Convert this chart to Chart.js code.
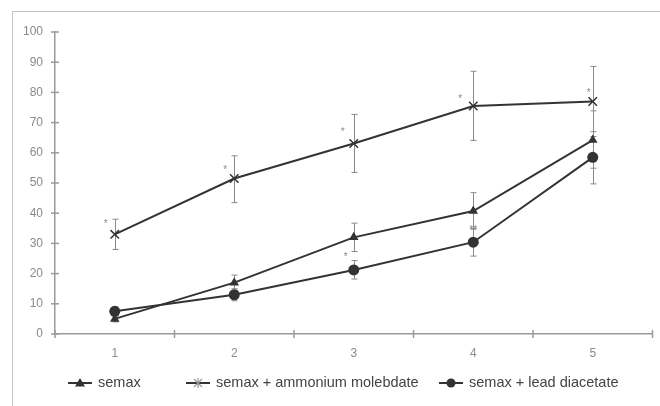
<!DOCTYPE html>
<html>
<head>
<meta charset="utf-8">
<script src="https://cdn.jsdelivr.net/npm/chart.js@4.4.0/dist/chart.umd.min.js"></script>
<style>
  html, body { margin: 0; padding: 0; background: #fff; }
  #wrap { position: relative; width: 660px; height: 406px; overflow: hidden; }
  #frame { position: absolute; left: 12px; top: 11px; width: 700px; height: 450px; border: 1.5px solid #c4c4c4; box-sizing: border-box; }
  canvas { position: absolute; left: 0; top: 0; }
</style>
</head>
<body>
<div id="wrap">
  <div id="frame"></div>
  <canvas id="c" width="660" height="406"></canvas>
</div>
<script>
const categories = ['1', '2', '3', '4', '5'];
const seriesNames = ['semax', 'semax + ammonium molebdate', 'semax + lead diacetate'];

const semax = [5, 17, 32, 40.7, 64.2];
const semaxUpper = [6, 19.5, 36.7, 46.8, 73.9];
const semaxLower = [4, 14.5, 27.3, 34.7, 54.9];

const ammonium = [33, 51.5, 63.1, 75.5, 77];
const ammoniumUpper = [38, 59, 72.7, 87, 88.6];
const ammoniumLower = [28, 43.5, 53.5, 64.1, 65.4];

const lead = [7.5, 13, 21.2, 30.4, 58.5];
const leadUpper = [9, 15, 24.3, 35, 67];
const leadLower = [6, 11, 18.2, 25.8, 49.7];

// significance marks
const starCategory = [0, 1, 2, 3, 4, 2, 3];
const starValue = [37, 55, 67.5, 78.5, 80.5, 26, 35];
const starText = ['*', '*', '*', '*', '*', '*', '**'];
const starShift = [-9, -9, -11, -13, -4, -8, 0];

const yTicks = [0, 10, 20, 30, 40, 50, 60, 70, 80, 90, 100];

const lineColor = '#333333';
const errColor = '#8a8a8a';
const axisColor = '#9a9a9a';

const errors = [
  { up: semaxUpper, lo: semaxLower },
  { up: ammoniumUpper, lo: ammoniumLower },
  { up: leadUpper, lo: leadLower }
];

const errorBarPlugin = {
  id: 'errorBars',
  beforeDatasetsDraw(chart) {
    const ctx = chart.ctx;
    const xs = chart.scales.x, ys = chart.scales.y;
    ctx.save();
    ctx.strokeStyle = errColor;
    ctx.lineWidth = 1;
    errors.forEach(e => {
      categories.forEach((c, i) => {
        const x = Math.round(xs.getPixelForValue(i)) + 0.5;
        const y1 = ys.getPixelForValue(e.up[i]);
        const y2 = ys.getPixelForValue(e.lo[i]);
        ctx.beginPath();
        ctx.moveTo(x, y1); ctx.lineTo(x, y2);
        ctx.moveTo(x - 3, y1); ctx.lineTo(x + 3, y1);
        ctx.moveTo(x - 3, y2); ctx.lineTo(x + 3, y2);
        ctx.stroke();
      });
    });
    ctx.fillStyle = '#8a8a8a';
    ctx.font = '10px "Liberation Sans", Arial, sans-serif';
    ctx.textAlign = 'center';
    ctx.textBaseline = 'middle';
    starCategory.forEach((ci, k) => {
      const x = xs.getPixelForValue(ci) + starShift[k];
      const y = ys.getPixelForValue(starValue[k]);
      ctx.fillText(starText[k], x, y + 2);
    });
    ctx.restore();
  },
  afterDraw(chart) {
    const ctx = chart.ctx;
    const xs = chart.scales.x, ys = chart.scales.y;
    const area = chart.chartArea;
    ctx.save();
    ctx.strokeStyle = axisColor;
    ctx.lineWidth = 1.5;
    yTicks.forEach(v => {
      const y = ys.getPixelForValue(v);
      ctx.beginPath();
      ctx.moveTo(area.left - 4, y); ctx.lineTo(area.left + 4, y);
      ctx.stroke();
    });
    for (let i = 0; i <= categories.length; i++) {
      const x = xs.getPixelForValue(i - 0.5);
      ctx.beginPath();
      ctx.moveTo(x, area.bottom - 4); ctx.lineTo(x, area.bottom + 4);
      ctx.stroke();
    }
    // legend
    const legendX = [68, 186, 439];
    const legendY = 383;
    chart.data.datasets.forEach((ds, i) => {
      const x0 = legendX[i];
      ctx.strokeStyle = lineColor;
      ctx.lineWidth = 2;
      ctx.beginPath();
      ctx.moveTo(x0, legendY); ctx.lineTo(x0 + 24, legendY);
      ctx.stroke();
      const cx = x0 + 12;
      ctx.fillStyle = lineColor;
      if (ds.pointStyle === 'triangle') {
        ctx.beginPath();
        ctx.moveTo(cx, legendY - 5); ctx.lineTo(cx + 5, legendY + 3.5); ctx.lineTo(cx - 5, legendY + 3.5);
        ctx.closePath(); ctx.fill();
      } else if (ds.pointStyle === 'circle') {
        ctx.beginPath(); ctx.arc(cx, legendY, 4.5, 0, Math.PI * 2); ctx.fill();
      } else {
        ctx.strokeStyle = '#999';
        ctx.lineWidth = 1.2;
        ctx.beginPath();
        ctx.moveTo(cx - 4, legendY - 4); ctx.lineTo(cx + 4, legendY + 4);
        ctx.moveTo(cx + 4, legendY - 4); ctx.lineTo(cx - 4, legendY + 4);
        ctx.moveTo(cx, legendY - 5); ctx.lineTo(cx, legendY + 5);
        ctx.stroke();
      }
      ctx.fillStyle = '#444';
      ctx.font = '14.5px "Liberation Sans", Arial, sans-serif';
      ctx.textAlign = 'left';
      ctx.textBaseline = 'middle';
      ctx.fillText(ds.label, x0 + 30, legendY);
    });
    ctx.restore();
  }
};

new Chart(document.getElementById('c'), {
  type: 'line',
  data: {
    labels: categories,
    datasets: [
      { label: seriesNames[0], data: semax, borderColor: lineColor, backgroundColor: lineColor, borderWidth: 2,
        pointStyle: 'triangle', pointRadius: 5.5, pointBorderWidth: 0, tension: 0 },
      { label: seriesNames[1], data: ammonium, borderColor: lineColor, backgroundColor: lineColor, borderWidth: 2,
        pointStyle: 'crossRot', pointRadius: 6, pointBorderWidth: 1.5, tension: 0 },
      { label: seriesNames[2], data: lead, borderColor: lineColor, backgroundColor: lineColor, borderWidth: 2,
        pointStyle: 'circle', pointRadius: 5.5, pointBorderWidth: 0, tension: 0 }
    ]
  },
  options: {
    responsive: false,
    animation: false,
    layout: { padding: { left: 0, top: 32, right: 7, bottom: 0 } },
    plugins: { legend: { display: false }, tooltip: { enabled: false } },
    scales: {
      x: {
        type: 'category',
        offset: true,
        grid: { display: false },
        border: { display: true, color: axisColor, width: 1.5 },
        ticks: { color: '#8a8a8a', font: { size: 12, family: '"Liberation Sans", Arial, sans-serif' }, padding: 4 },
        afterFit(s) { s.height = 72; }
      },
      y: {
        min: 0, max: 100,
        grid: { display: false },
        border: { display: true, color: axisColor, width: 1.5 },
        ticks: { stepSize: 10, color: '#8a8a8a', font: { size: 12, family: '"Liberation Sans", Arial, sans-serif' }, padding: 4 },
        afterFit(s) { s.width = 55; }
      }
    }
  },
  plugins: [errorBarPlugin]
});
</script>
</body>
</html>
